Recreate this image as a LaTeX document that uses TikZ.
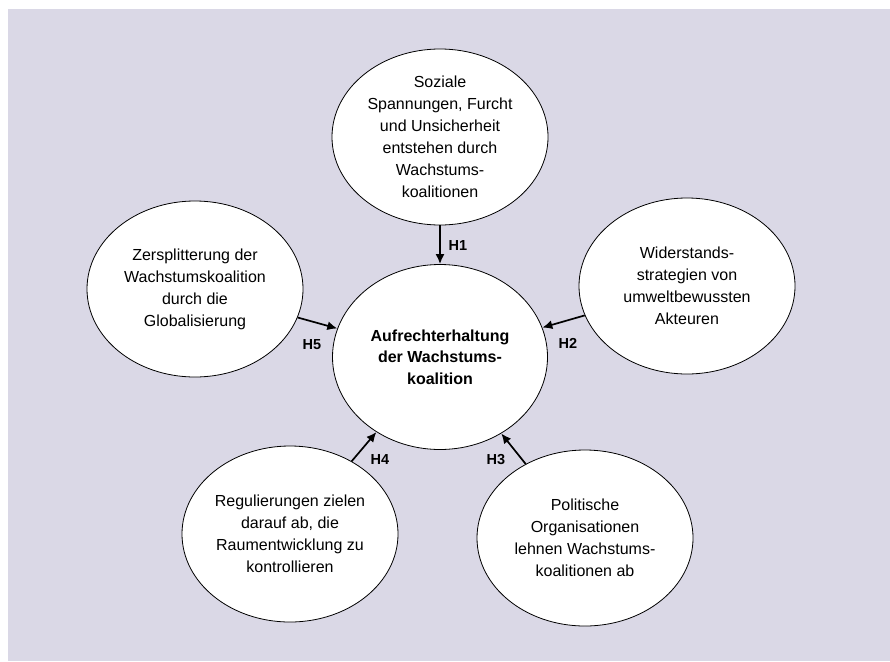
\documentclass[tikz,border=0pt]{standalone}
\usepackage{fontspec}
\setmainfont{Liberation Sans}
\usepackage{xcolor}
\usepackage{tikz}
\usetikzlibrary{arrows.meta,shapes.geometric}
\definecolor{lavgrey}{RGB}{218,216,230}

\begin{document}
\begin{tikzpicture}[x=1pt,y=-1pt,>={Latex[length=10pt,width=9pt]},
            font=\fontsize{16}{22}\selectfont]
        \tikzstyle{bubble}=[ellipse,draw=black,line width=0.8pt,fill=white,
            inner sep=0pt,align=center,minimum width=216pt,minimum height=176pt]
        \tikzstyle{link}=[->,line width=1.7pt]
        \tikzstyle{hyp}=[font=\fontsize{14.5}{16}\selectfont\bfseries,inner sep=0pt]

        \useasboundingbox (0,0) rectangle (890,661);
        \fill[lavgrey] (8,9) rectangle (890,661);

        \node[bubble,minimum width=215pt,minimum height=185pt,
            font=\fontsize{16}{21.5}\selectfont\bfseries] (Z) at (440,357)
            {Aufrechterhaltung\\der Wachstums-\\koalition};
        \node[bubble] (A) at (440,137) {Soziale\\Spannungen, Furcht\\und Unsicherheit\\entstehen durch\\Wachstums-\\koalitionen};
        \node[bubble] (B) at (687,286) {Widerstands-\\strategien von\\umweltbewussten\\Akteuren};
        \node[bubble] (C) at (585,538) {Politische\\Organisationen\\lehnen Wachstums-\\koalitionen ab};
        \node[bubble] (D) at (290,534) {Regulierungen zielen\\darauf ab, die\\Raumentwicklung zu\\kontrollieren};
        \node[bubble] (E) at (195,289) {Zersplitterung der\\Wachstumskoalition\\durch die\\Globalisierung};

        \path (A) edge[link] (Z);
        \path (B) edge[link] (Z);
        \path (C) edge[link] (Z);
        \path (D) edge[link] (Z);
        \path (E) edge[link] (Z);

        \node[hyp] (h1) at (458,246) {H1};
        \node[hyp] (h2) at (568,343) {H2};
        \node[hyp] (h3) at (496,460) {H3};
        \node[hyp] (h4) at (380,460) {H4};
        \node[hyp] (h5) at (312,345) {H5};
    \end{tikzpicture}
\end{document}
